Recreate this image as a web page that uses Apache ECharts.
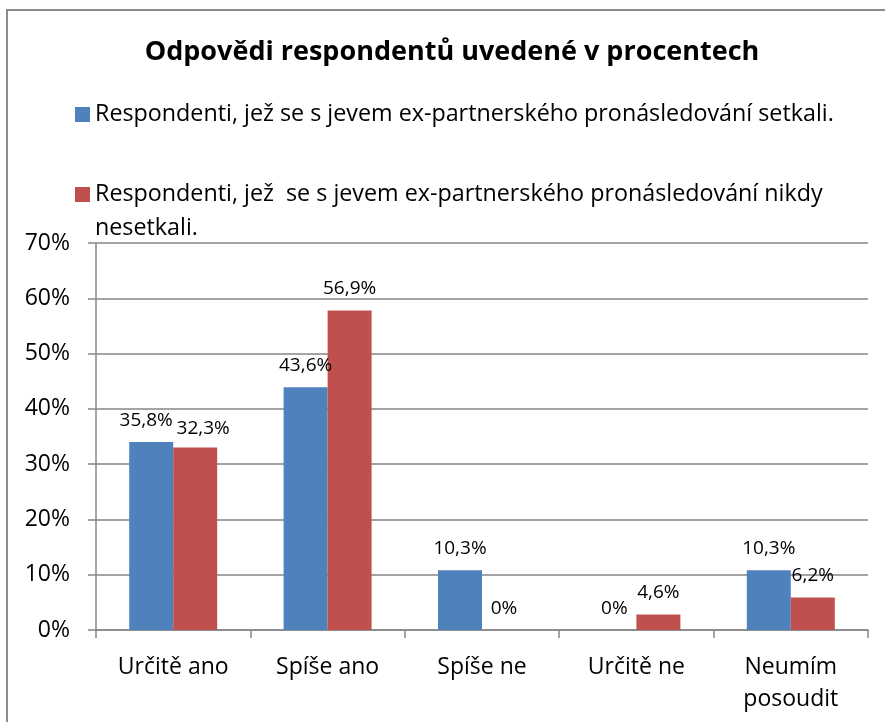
<!DOCTYPE html>
<html>
<head>
<meta charset="utf-8">
<script src="https://cdn.jsdelivr.net/npm/echarts@6/dist/echarts.min.js"></script>
<style>
	body { margin: 0; background: #fff; }
	#main { width: 885px; height: 722px; }
</style>
</head>
<body>
<div id="main"></div>
<script>
// data
var categories = [ 'Určitě ano', 'Spíše ano', 'Spíše ne', 'Určitě ne', 'Neumím\nposoudit' ];
var blueName = 'Respondenti, jež se s jevem ex-partnerského pronásledování setkali.';
var redName = 'Respondenti, jež  se s jevem ex-partnerského pronásledování nikdy nesetkali.';
var blueValues = [ 34, 43.9, 10.8, 0, 10.8 ];
var redValues = [ 33, 57.8, 0, 2.8, 5.9 ];
var blueLabels = [ '35,8%', '43,6%', '10,3%', '0%', '10,3%' ];
var redLabels = [ '32,3%', '56,9%', '0%', '4,6%', '6,2%' ];

var font = 'Open Sans';
var myChart = echarts.init(document.getElementById('main'));

// the two labels of the first group were nudged apart in the original
function withNudge(values, idx, offset) {
	return values.map(function(v, i) {
		if (i === idx) {
			return { value : v, label : { offset : offset } };
		}
		return v;
	});
}

var option = {
	animation : false,
	title : {
		text : 'Odpovědi respondentů uvedené v procentech',
		left : 447,
		top : 34,
		textAlign : 'center',
		textStyle : {
			fontFamily : font,
			fontSize : 27,
			fontWeight : 'bold',
			color : '#000'
		}
	},
	graphic : [ {
		type : 'rect',
		shape : { x : 7, y : 10, width : 1000, height : 1000 },
		style : { fill : 'none', stroke : '#8c8c8c', lineWidth : 2 },
		silent : true
	} ],
	legend : [ {
		data : [ blueName ],
		left : 75,
		top : 97.5,
		padding : 0,
		itemWidth : 15,
		itemHeight : 15,
		icon : 'rect',
		textStyle : { fontFamily : font, fontSize : 23.3, color : '#000', lineHeight : 34 }
	}, {
		data : [ redName ],
		left : 75,
		top : 143.5,
		padding : 0,
		itemWidth : 15,
		itemHeight : 15,
		icon : 'rect',
		formatter : function(name) {
			return '\n' + name.replace(' nesetkali.', '') + '\n' + 'nesetkali.';
		},
		textStyle : { fontFamily : font, fontSize : 23.3, color : '#000', lineHeight : 34 }
	} ],
	grid : {
		left : 96,
		right : 17,
		top : 243,
		bottom : 92,
		containLabel : false
	},
	xAxis : {
		type : 'category',
		data : categories,
		axisLine : { lineStyle : { color : '#868686', width : 1.5 } },
		axisTick : { show : true, length : 8, lineStyle : { color : '#868686', width : 1.5 } },
		axisLabel : {
			margin : 21,
			fontFamily : font,
			fontSize : 23,
			lineHeight : 32,
			color : '#000'
		}
	},
	yAxis : {
		type : 'value',
		min : 0,
		max : 70,
		interval : 10,
		axisLine : { show : true, lineStyle : { color : '#868686', width : 1.5 } },
		axisTick : { show : true, length : 8, lineStyle : { color : '#868686', width : 1.5 } },
		splitLine : { lineStyle : { color : '#868686', width : 1.5 } },
		axisLabel : {
			margin : 26,
			formatter : '{value}%',
			fontFamily : font,
			fontSize : 23,
			color : '#000'
		}
	},
	series : [ {
		name : blueName,
		type : 'bar',
		data : withNudge(blueValues, 0, [ -5, 0 ]),
		barWidth : 44,
		barGap : '0%',
		itemStyle : { color : '#4F81BD' },
		label : {
			show : true,
			position : 'top',
			distance : 12,
			fontFamily : font,
			fontSize : 19,
			color : '#000',
			formatter : function(p) { return blueLabels[p.dataIndex]; }
		}
	}, {
		name : redName,
		type : 'bar',
		data : withNudge(redValues, 0, [ 8, 3 ]),
		barWidth : 44,
		itemStyle : { color : '#C0504D' },
		label : {
			show : true,
			position : 'top',
			distance : 12,
			fontFamily : font,
			fontSize : 19,
			color : '#000',
			formatter : function(p) { return redLabels[p.dataIndex]; }
		}
	} ]
};

myChart.setOption(option);
</script>
</body>
</html>
